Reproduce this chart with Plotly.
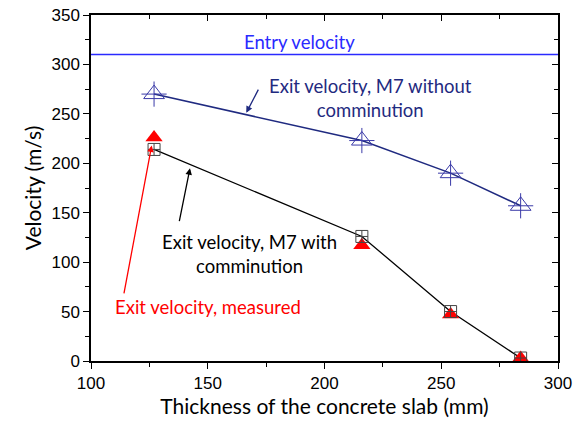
import plotly.graph_objects as go

thickness = [127, 216, 254, 284]
v_without = [270, 223, 190, 157]
v_with = [214, 126, 50, 3]
v_measured = [226, 117, 47, 3]
entry_velocity = 310

navy = "#1f2a80"
tri_col = "#3a3aa8"

fig = go.Figure()
fig.add_trace(go.Scatter(x=[100, 300], y=[entry_velocity, entry_velocity], mode="lines",
                         line=dict(color="#2a2aff", width=1.5), showlegend=False))
fig.add_trace(go.Scatter(x=thickness, y=v_without, mode="lines",
                         line=dict(color=navy, width=1.5), showlegend=False))
fig.add_trace(go.Scatter(x=thickness, y=v_without, mode="markers",
                         marker=dict(symbol="triangle-up-open", size=18, color=tri_col,
                                     line=dict(width=1, color=tri_col)), showlegend=False))
fig.add_trace(go.Scatter(x=thickness, y=v_without, mode="markers",
                         marker=dict(symbol="cross-thin-open", size=18, color=tri_col,
                                     line=dict(width=1, color=tri_col)), showlegend=False))
fig.add_trace(go.Scatter(x=thickness, y=v_with, mode="lines",
                         line=dict(color="black", width=1.3), showlegend=False))
fig.add_trace(go.Scatter(x=thickness, y=v_measured, mode="markers",
                         marker=dict(symbol="triangle-up", size=15, color="#ff0000",
                                     line=dict(width=0)), showlegend=False))
fig.add_trace(go.Scatter(x=thickness, y=v_with, mode="markers",
                         marker=dict(symbol="square-cross-open", size=12, color="#444444",
                                     line=dict(width=1, color="#444444")), showlegend=False))

ann_font = dict(family="Lato, Open Sans, sans-serif", size=18.5)
fig.add_annotation(x=189.5, y=322.5, text="Entry velocity", showarrow=False,
                   font=dict(ann_font, color="#2a2aff"))
fig.add_annotation(x=219.5, y=266, text="Exit velocity, M7 without<br>comminution", showarrow=False,
                   font=dict(ann_font, color=navy))
fig.add_annotation(x=166.5, y=251, ax=172, ay=276, axref="x", ayref="y", text="", showarrow=True,
                   arrowhead=2, arrowsize=1, arrowwidth=1.3, arrowcolor=navy)
fig.add_annotation(x=168, y=108, text="Exit velocity, M7 with<br>comminution", showarrow=False,
                   font=dict(ann_font, color="black"))
fig.add_annotation(x=142.4, y=195, ax=137.7, ay=140, axref="x", ayref="y", text="", showarrow=True,
                   arrowhead=2, arrowsize=1, arrowwidth=1.3, arrowcolor="black")
fig.add_annotation(x=150, y=54.6, text="Exit velocity, measured", showarrow=False,
                   font=dict(ann_font, color="#ff0000"))
fig.add_annotation(x=126, y=218, ax=114, ay=67, axref="x", ayref="y", text="", showarrow=True,
                   arrowhead=2, arrowsize=1, arrowwidth=1.3, arrowcolor="#ff0000")

tick_font = dict(family="Liberation Sans, Arial, sans-serif", size=17, color="black")
title_font = dict(family="Lato, Open Sans, sans-serif", size=21, color="black")

fig.update_layout(
    width=583, height=427,
    margin=dict(l=91, r=25, t=15, b=66, autoexpand=False),
    plot_bgcolor="white", paper_bgcolor="white",
    xaxis=dict(range=[100, 300], tickvals=[100, 150, 200, 250, 300], ticks="outside",
               ticklen=6, tickwidth=1, tickcolor="black", showline=True, linecolor="black",
               linewidth=1.5, showgrid=False, zeroline=False, tickfont=tick_font, automargin=False,
               title=dict(text="Thickness of the concrete slab (mm)", font=title_font, standoff=4),
               minor=dict(tickvals=[125, 175, 225, 275], ticks="outside", ticklen=4,
                          tickcolor="black", showgrid=False)),
    yaxis=dict(range=[0, 350], tickvals=[0, 50, 100, 150, 200, 250, 300, 350], ticks="outside",
               ticklen=6, tickwidth=1, tickcolor="black", showline=True, linecolor="black",
               linewidth=1.5, showgrid=False, zeroline=False, tickfont=tick_font, automargin=False,
               title=dict(text="Velocity (m/s)", font=title_font, standoff=4),
               minor=dict(tickvals=[25, 75, 125, 175, 225, 275, 325], ticks="outside", ticklen=4,
                          tickcolor="black", showgrid=False)),
    xaxis2=dict(range=[100, 300], overlaying="x", side="top", tickvals=[100, 150, 200, 250, 300],
                ticks="inside", ticklen=6, tickcolor="black", showticklabels=False, showline=True,
                linecolor="black", linewidth=1.5, showgrid=False, zeroline=False, automargin=False,
                minor=dict(tickvals=[125, 175, 225, 275], ticks="inside", ticklen=4,
                           tickcolor="black", showgrid=False)),
    yaxis2=dict(range=[0, 350], overlaying="y", side="right",
                tickvals=[0, 50, 100, 150, 200, 250, 300, 350], automargin=False,
                ticks="inside", ticklen=6, tickcolor="black", showticklabels=False, showline=True,
                linecolor="black", linewidth=1.5, showgrid=False, zeroline=False,
                minor=dict(tickvals=[25, 75, 125, 175, 225, 275, 325], ticks="inside", ticklen=4,
                           tickcolor="black", showgrid=False)),
)
fig.add_trace(go.Scatter(x=[None], y=[None], xaxis="x2", yaxis="y2", showlegend=False,
                         hoverinfo="skip"))

fig.write_html("out.html", config={"displayModeBar": False},
               post_script="document.body.style.margin='0';")
